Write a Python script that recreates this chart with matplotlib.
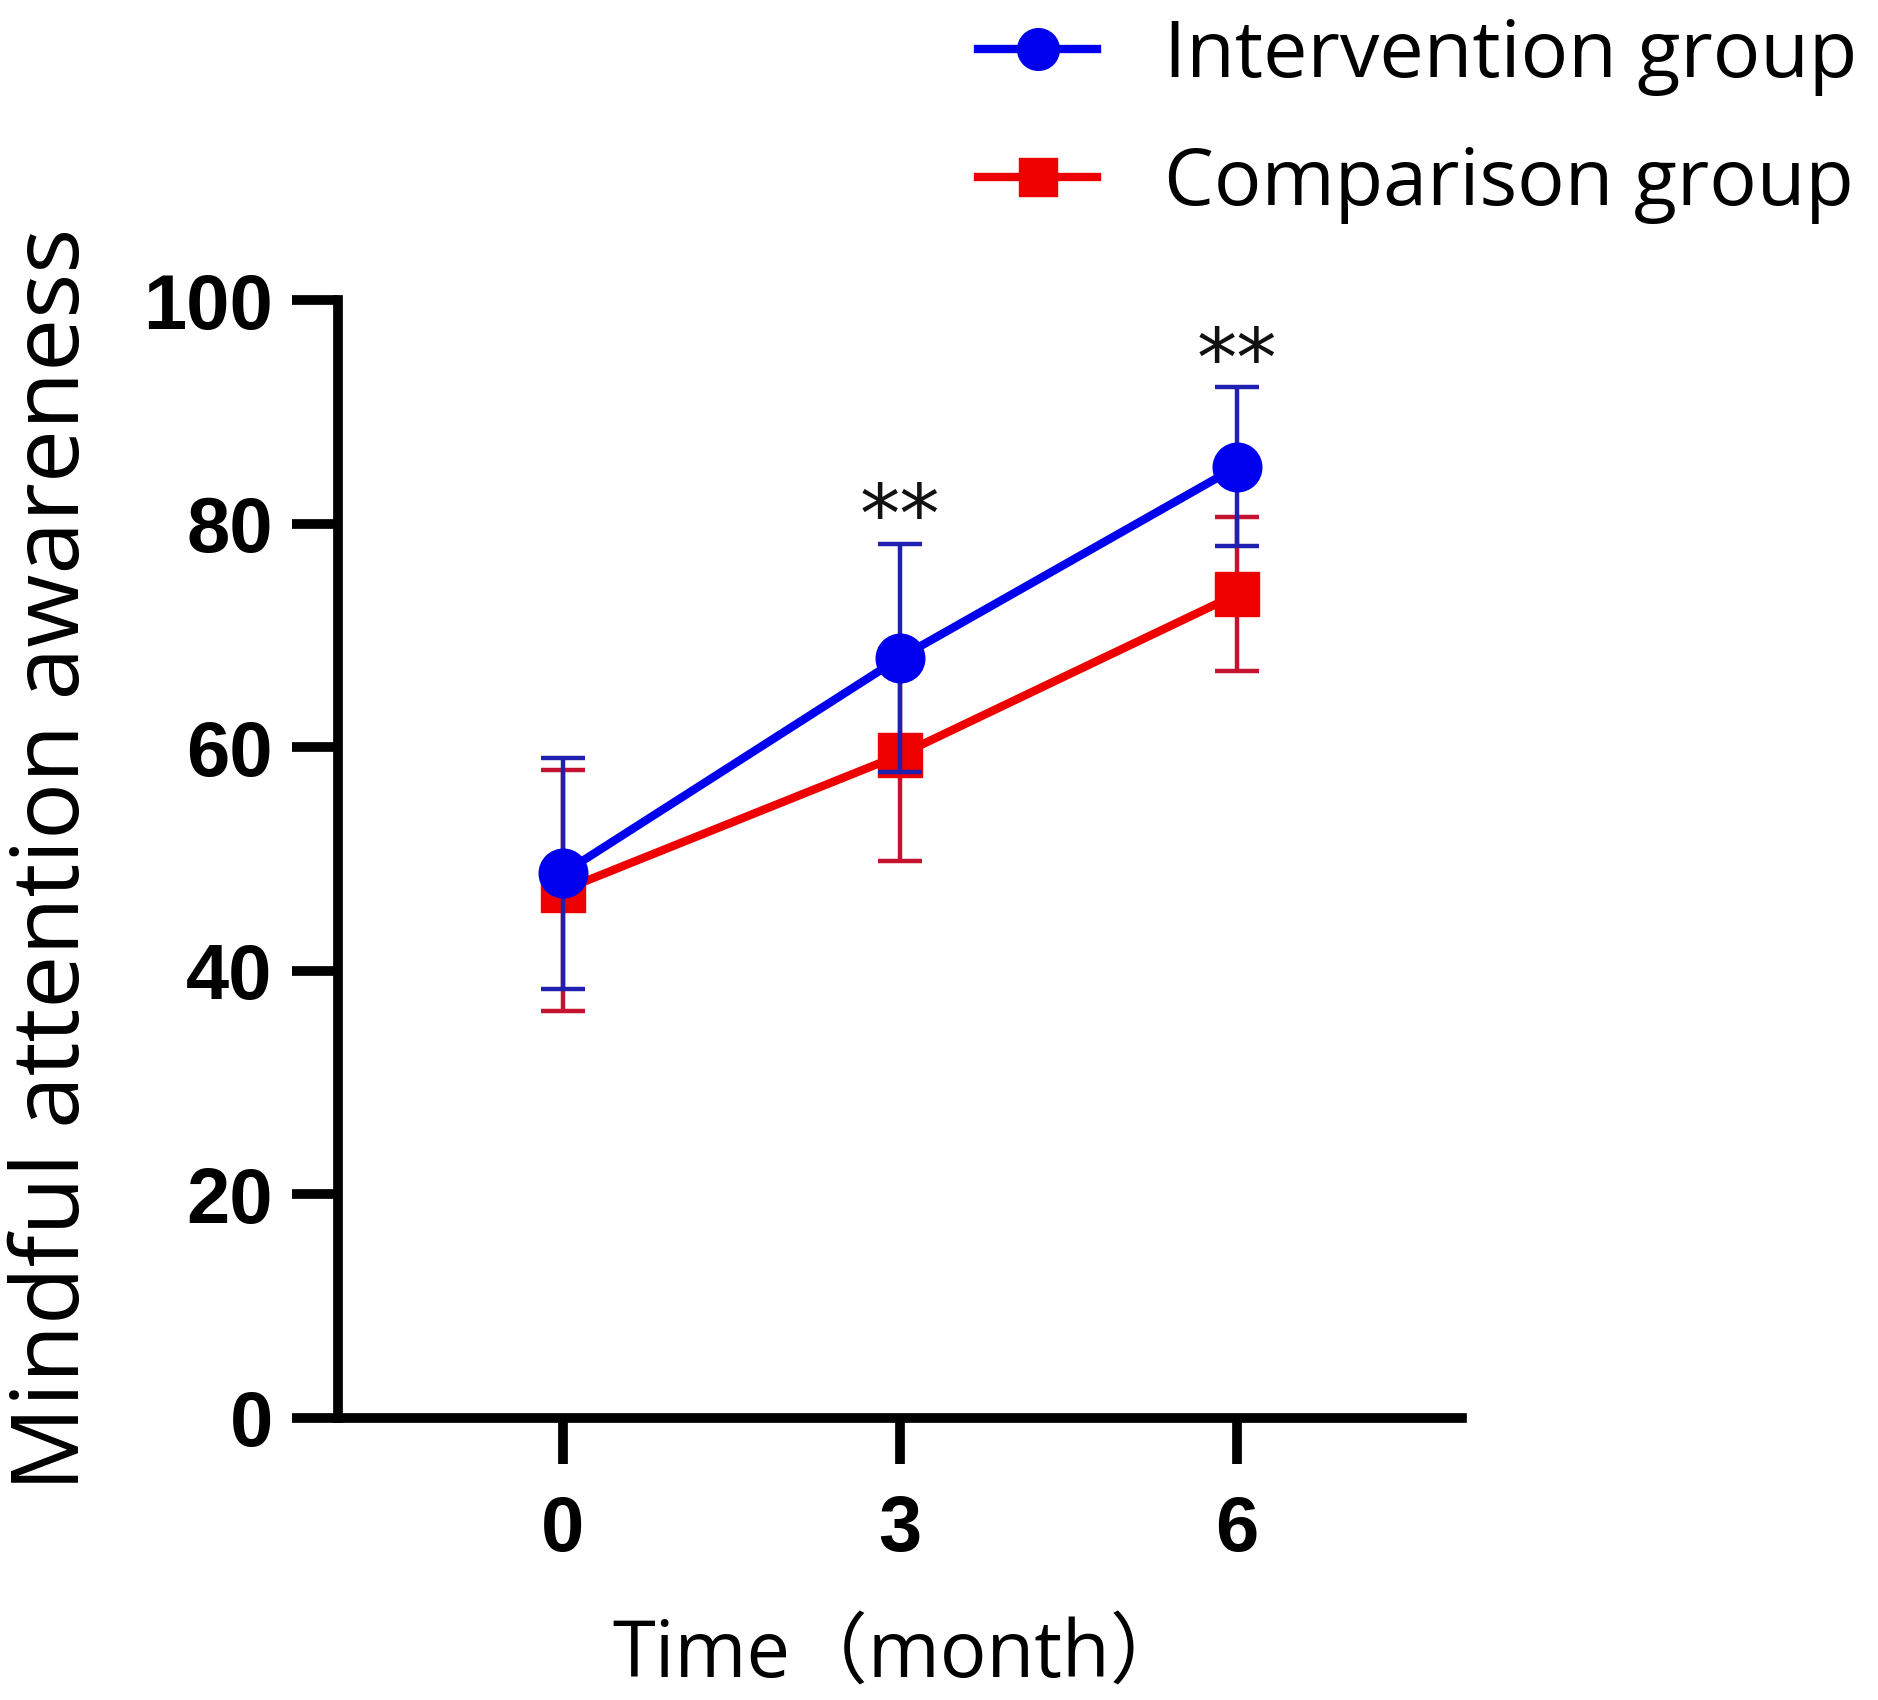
import matplotlib
matplotlib.use('Agg')
from matplotlib import pyplot as plt
from matplotlib.lines import Line2D

months = [0, 3, 6]
interv_mean = [48.7, 68.0, 85.1]
interv_sd = [10.3, 10.2, 7.1]
comp_mean = [47.2, 59.3, 73.7]
comp_sd = [10.8, 9.5, 6.9]
stars = ['', '**', '**']
star_y = [None, 80.3, 94.3]

BLUE = '#0000ee'
RED = '#ee0000'

fig = plt.figure(figsize=(18.78, 17.0), dpi=100)
ax = fig.add_axes([0.18, 0.166, 0.5985, 0.6575])

# comparison group first, intervention on top
ax.errorbar(months, comp_mean, yerr=comp_sd, color=RED, ecolor='#c41230',
            elinewidth=3.2, capsize=16, capthick=3.2, lw=0, zorder=2)
ax.plot(months, comp_mean, color=RED, lw=6, marker='s', ms=32, zorder=3)
ax.errorbar(months, interv_mean, yerr=interv_sd, color=BLUE, ecolor='#2020b0',
            elinewidth=3.2, capsize=16, capthick=3.2, lw=0, zorder=4)
ax.plot(months, interv_mean, color=BLUE, lw=6, marker='o', ms=35, zorder=5)

for m, s, y in zip(months, stars, star_y):
    if s:
        ax.text(m, y, s, ha='center', va='center', fontsize=58,
                family='DejaVu Sans', color='#111111')

ax.set_xlim(-2, 8)
ax.set_ylim(0, 100)
ax.set_xticks(months)
ax.set_yticks([0, 20, 40, 60, 80, 100])
for sp in ['top', 'right']:
    ax.spines[sp].set_visible(False)
for sp in ['left', 'bottom']:
    ax.spines[sp].set_linewidth(7)
ax.tick_params(width=7, length=33, pad=14)
ax.tick_params(axis='x', pad=22)
for lab in ax.get_xticklabels() + ax.get_yticklabels():
    lab.set_family('Liberation Sans')
    lab.set_fontweight('bold')
    lab.set_fontsize(56)

ax.set_ylabel('Mindful attention awareness', fontsize=68, family='Open Sans',
              labelpad=30)
ax.set_xlabel('Time（month）', fontsize=56, family=['Open Sans', 'Noto Sans CJK SC'],
              labelpad=36)

handles = [Line2D([], [], color=BLUE, lw=6, marker='o', ms=30),
           Line2D([], [], color=RED, lw=6, marker='s', ms=28)]
fig.legend(handles, ['Intervention group', 'Comparison group'],
           loc='upper left', bbox_to_anchor=(0.521, 0.99), frameon=False,
           prop={'family': 'Open Sans', 'size': 57}, handlelength=1.5,
           handletextpad=0.85, labelspacing=0.62, borderpad=0,
           borderaxespad=0)

plt.savefig('out.png', dpi=100)
